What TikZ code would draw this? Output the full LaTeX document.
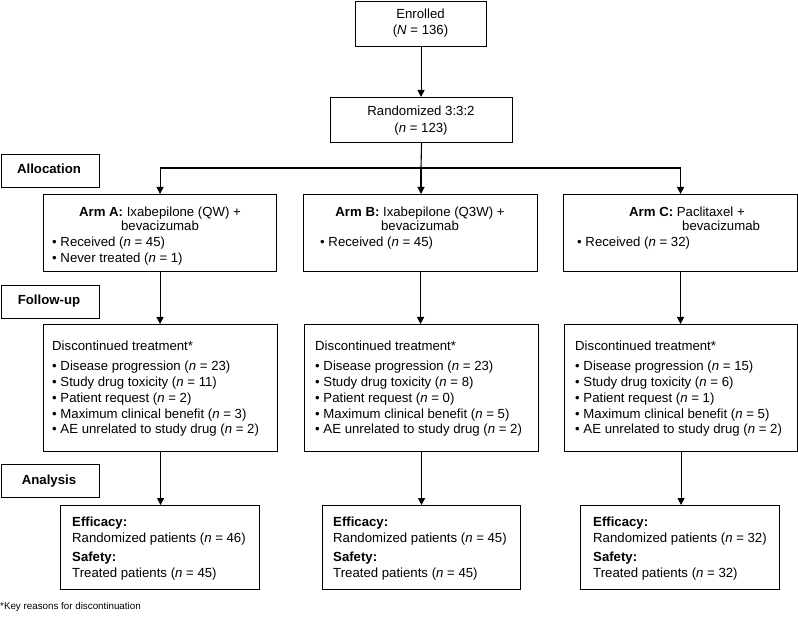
\documentclass[tikz,border=0pt]{standalone}
\usepackage{fontspec}
\setmainfont{Liberation Sans}
\usetikzlibrary{arrows.meta}
\begin{document}
\begin{tikzpicture}[x=1pt,y=-1pt,
  box/.style={draw, line width=1.1pt, anchor=north west, inner sep=0pt},
  arr/.style={line width=1.1pt, -{Triangle[length=7pt,width=7pt]}},
  ln/.style={line width=1.1pt},
  txt/.style={anchor=base west, inner sep=0pt, font=\fontsize{13.2}{15}\selectfont},
  ctxt/.style={anchor=base, inner sep=0pt, font=\fontsize{13.2}{15}\selectfont},
  lbl/.style={anchor=base, inner sep=0pt, font=\fontsize{13.2}{15}\selectfont\bfseries},
  note/.style={anchor=base west, inner sep=0pt, font=\fontsize{9.8}{11}\selectfont},
]
\useasboundingbox (0,0) rectangle (798,620);

% top boxes
\node[box, minimum width=131pt, minimum height=45pt] (enr) at (355,1) {};
\node[ctxt] (enr1) at (420.5,19) {Enrolled};
\node[ctxt] (enr2) at (420.5,35) {(\textit{N} = 136)};
\node[box, minimum width=182pt, minimum height=45pt] (rnd) at (330,97) {};
\node[ctxt] (rnd1) at (421,116) {Randomized 3:3:2};
\node[ctxt] (rnd2) at (421,132.5) {(\textit{n} = 123)};

% stage labels
\node[box, minimum width=98pt, minimum height=33pt] (alloc) at (0.6,154) {};
\node[lbl] (allocT) at (49,173.5) {Allocation};
\node[box, minimum width=98pt, minimum height=33pt] (follow) at (0.6,285) {};
\node[lbl] (followT) at (49,305) {Follow-up};
\node[box, minimum width=98pt, minimum height=33pt] (anal) at (0.6,464) {};
\node[lbl] (analT) at (49,484.5) {Analysis};

% arm boxes
\node[box, minimum width=233pt, minimum height=77pt] (armA) at (43,194) {};
\node[ctxt] (armA1) at (160,216.5) {\textbf{Arm A:} Ixabepilone (QW) +};
\node[ctxt] (armA2) at (160,230.5) {bevacizumab};
\node[txt] (armA3) at (52,247) {• Received (\textit{n} = 45)};
\node[txt] (armA4) at (52,263) {• Never treated (\textit{n} = 1)};

\node[box, minimum width=234pt, minimum height=77pt] (armB) at (303,194) {};
\node[ctxt] (armB1) at (420,216.5) {\textbf{Arm B:} Ixabepilone (Q3W) +};
\node[ctxt] (armB2) at (420,230.5) {bevacizumab};
\node[txt] (armB3) at (320,247) {• Received (\textit{n} = 45)};

\node[box, minimum width=234pt, minimum height=77pt] (armC) at (563,194) {};
\node[txt] (armC1) at (629,216.5) {\textbf{Arm C:} Paclitaxel +};
\node[txt] (armC2) at (682,230.5) {bevacizumab};
\node[txt] (armC3) at (577,247) {• Received (\textit{n} = 32)};

% discontinued boxes
\node[box, minimum width=234pt, minimum height=127pt] (discA) at (43,324) {};
\node[txt] (discA0) at (52,351) {Discontinued treatment*};
\node[txt] (discA1) at (52,370.5) {• Disease progression (\textit{n} = 23)};
\node[txt] (discA2) at (52,386) {• Study drug toxicity (\textit{n} = 11)};
\node[txt] (discA3) at (52,402) {• Patient request (\textit{n} = 2)};
\node[txt] (discA4) at (52,418) {• Maximum clinical benefit (\textit{n} = 3)};
\node[txt] (discA5) at (52,433.5) {• AE unrelated to study drug (\textit{n} = 2)};

\node[box, minimum width=234pt, minimum height=127pt] (discB) at (304,324) {};
\node[txt] (discB0) at (315,351) {Discontinued treatment*};
\node[txt] (discB1) at (315,370.5) {• Disease progression (\textit{n} = 23)};
\node[txt] (discB2) at (315,386) {• Study drug toxicity (\textit{n} = 8)};
\node[txt] (discB3) at (315,402) {• Patient request (\textit{n} = 0)};
\node[txt] (discB4) at (315,418) {• Maximum clinical benefit (\textit{n} = 5)};
\node[txt] (discB5) at (315,433.5) {• AE unrelated to study drug (\textit{n} = 2)};

\node[box, minimum width=233pt, minimum height=127pt] (discC) at (564,324) {};
\node[txt] (discC0) at (575,351) {Discontinued treatment*};
\node[txt] (discC1) at (575,370.5) {• Disease progression (\textit{n} = 15)};
\node[txt] (discC2) at (575,386) {• Study drug toxicity (\textit{n} = 6)};
\node[txt] (discC3) at (575,402) {• Patient request (\textit{n} = 1)};
\node[txt] (discC4) at (575,418) {• Maximum clinical benefit (\textit{n} = 5)};
\node[txt] (discC5) at (575,433.5) {• AE unrelated to study drug (\textit{n} = 2)};

% analysis boxes
\node[box, minimum width=199pt, minimum height=84pt] (effA) at (60,505) {};
\node[txt] (effA1) at (72,526) {\textbf{Efficacy:}};
\node[txt] (effA2) at (72,542) {Randomized patients (\textit{n} = 46)};
\node[txt] (effA3) at (72,561.5) {\textbf{Safety:}};
\node[txt] (effA4) at (72,577) {Treated patients (\textit{n} = 45)};

\node[box, minimum width=198pt, minimum height=84pt] (effB) at (322,505) {};
\node[txt] (effB1) at (333,526) {\textbf{Efficacy:}};
\node[txt] (effB2) at (333,542) {Randomized patients (\textit{n} = 45)};
\node[txt] (effB3) at (333,561.5) {\textbf{Safety:}};
\node[txt] (effB4) at (333,577) {Treated patients (\textit{n} = 45)};

\node[box, minimum width=199pt, minimum height=84pt] (effC) at (580,505) {};
\node[txt] (effC1) at (593,526) {\textbf{Efficacy:}};
\node[txt] (effC2) at (593,542) {Randomized patients (\textit{n} = 32)};
\node[txt] (effC3) at (593,561.5) {\textbf{Safety:}};
\node[txt] (effC4) at (593,577) {Treated patients (\textit{n} = 32)};

\node[note] (fn) at (0,609) {*Key reasons for discontinuation};

% connectors
\coordinate (split) at (421,168);
\draw[arr] (enr.south) -- (enr.south |- rnd.north);
\draw[ln] (rnd.south) -- (split);
\draw[arr] (split) -| (armA.north);
\draw[arr] (split) -| (armC.north);
\draw[arr] (split) -- (split |- armB.north);
\draw[arr] (armA.south) -- (armA.south |- discA.north);
\draw[arr] (armB.south) -- (armB.south |- discB.north);
\draw[arr] (armC.south) -- (armC.south |- discC.north);
\draw[arr] (discA.south) -- (discA.south |- effA.north);
\draw[arr] (discB.south) -- (discB.south |- effB.north);
\draw[arr] (discC.south) -- (discC.south |- effC.north);
\end{tikzpicture}
\end{document}
